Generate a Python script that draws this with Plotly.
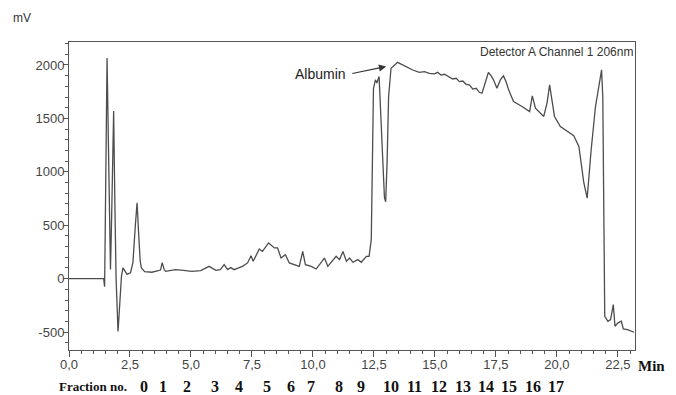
import plotly.graph_objects as go

# chromatogram trace (time in min, signal in mV)
time_min = [0.0, 1.42, 1.46, 1.50, 1.56, 1.62, 1.67, 1.70, 1.75, 1.83, 1.88, 1.93, 2.01, 2.08, 2.15, 2.21,
            2.30, 2.38, 2.52, 2.62, 2.72, 2.79, 2.86, 2.92, 2.97, 3.10, 3.40, 3.60, 3.75, 3.82, 3.90, 3.96,
            4.20, 4.37, 4.60, 5.04, 5.40, 5.74, 6.02, 6.20, 6.36, 6.50, 6.63, 6.77, 6.95, 7.11, 7.32, 7.46,
            7.55, 7.80, 7.93, 8.18, 8.42, 8.55, 8.69, 8.87, 9.03, 9.24, 9.44, 9.58, 9.69, 9.93, 10.13, 10.47,
            10.61, 10.95, 11.09, 11.23, 11.37, 11.50, 11.64, 11.84, 11.98, 12.19, 12.30, 12.39, 12.43, 12.48,
            12.56, 12.62, 12.71, 12.78, 12.86, 12.93, 12.98, 13.04, 13.10, 13.20, 13.47, 13.82, 14.09, 14.36,
            14.57, 14.77, 14.98, 15.11, 15.25, 15.39, 15.59, 15.73, 15.87, 16.00, 16.14, 16.28, 16.41, 16.55,
            16.69, 16.82, 16.93, 17.06, 17.19, 17.30, 17.40, 17.54, 17.68, 17.81,
            17.92, 18.02, 18.22, 18.57, 18.88, 18.99, 19.12, 19.46, 19.60, 19.70, 19.80, 19.90, 20.14, 20.69,
            20.90, 21.10, 21.24, 21.40, 21.58, 21.75, 21.83, 21.88, 21.93, 21.96, 22.09, 22.20, 22.31, 22.38,
            22.50, 22.64, 22.72, 22.89, 23.16]
signal_mv = [0, 0, -75, 900, 2066, 1200, 300, 85, 600, 1570, 700, 0, -495, -250, 20, 100,
             70, 40, 55, 150, 500, 710, 400, 160, 100, 65, 60, 70, 80, 150, 85, 68,
             75, 84, 80, 68, 75, 115, 78, 85, 131, 84, 103, 84, 100, 115, 147, 215,
             162, 278, 255, 334, 287, 287, 193, 224, 147, 131, 115, 255, 131, 115, 90, 193,
             115, 209, 178, 255, 162, 193, 153, 178, 153, 209, 209, 365, 1200, 1780,
             1861, 1832, 1892, 1500, 1000, 760, 720, 1100, 1700, 1969, 2025, 1984, 1953, 1931,
             1937, 1922, 1916, 1931, 1906, 1913, 1890, 1869, 1875, 1844, 1850, 1819, 1813, 1775,
             1782, 1744, 1735, 1845, 1929, 1900, 1861, 1783, 1860, 1898,
             1840, 1767, 1658, 1611, 1564, 1711, 1596, 1518, 1650, 1814, 1650, 1518, 1424, 1337,
             1237, 900, 754, 1200, 1611, 1850, 1954, 1700, 0, -352, -399, -383, -243, -446,
             -414, -399, -470, -477, -502]

# axis ticks
y_tickvals = [-500, 0, 500, 1000, 1500, 2000]
y_ticktext = ["-500", "0", "500", "1000", "1500", "2000"]
x_tickvals = [0.0, 2.5, 5.0, 7.5, 10.0, 12.5, 15.0, 17.5, 20.0, 22.5]
x_ticktext = ["0,0", "2,5", "5,0", "7,5", "10,0", "12,5", "15,0", "17,5", "20,0", "22,5"]

# fraction numbering under the time axis
fraction_labels = [str(i) for i in range(18)]
fraction_x = [3.08, 3.86, 4.84, 5.99, 6.98, 8.12, 9.11, 9.93, 11.08, 11.98,
              13.21, 14.15, 15.18, 16.13, 17.11, 18.05, 19.00, 19.98]

LINE = "#4d4d4d"
AX = "#555555"
SERIF = "Liberation Serif, Times New Roman, serif"
SANS = "Liberation Sans, Arial, sans-serif"

fig = go.Figure()
fig.add_trace(go.Scatter(x=time_min, y=signal_mv, mode="lines",
                         line=dict(color=LINE, width=1.3), hoverinfo="skip"))

annotations = []
annotations.append(dict(text="mV", xref="paper", yref="paper", x=-0.083, y=1.078,
                        xanchor="center", yanchor="middle", showarrow=False,
                        font=dict(family=SANS, size=12, color="#333")))
annotations.append(dict(text="Detector A Channel 1 206nm", xref="paper", yref="paper", x=1.0, y=0.967,
                        xanchor="right", yanchor="middle", showarrow=False,
                        font=dict(family=SANS, size=12, color="#333")))
annotations.append(dict(text="Albumin", xref="x", yref="y", x=11.45, y=1916, xanchor="right",
                        yanchor="middle", showarrow=False,
                        font=dict(family=SANS, size=14, color="#222")))
annotations.append(dict(text="", xref="x", yref="y", x=13.0, y=1985, axref="x", ayref="y",
                        ax=11.55, ay=1917, showarrow=True, arrowhead=2, arrowsize=1.2,
                        arrowwidth=1.2, arrowcolor="#333"))
annotations.append(dict(text="<b>Min</b>", xref="paper", yref="paper", x=1.03, y=-0.052,
                        xanchor="center", yanchor="middle", showarrow=False,
                        font=dict(family=SERIF, size=15, color="#111")))
annotations.append(dict(text="<b>Fraction no.</b>", xref="paper", yref="paper", x=0.042, y=-0.117,
                        xanchor="center", yanchor="middle", showarrow=False,
                        font=dict(family=SERIF, size=13, color="#111")))
for lab, fx in zip(fraction_labels, fraction_x):
    annotations.append(dict(text="<b>%s</b>" % lab, xref="x", yref="paper", x=fx, y=-0.117,
                            xanchor="center", yanchor="middle", showarrow=False,
                            font=dict(family=SERIF, size=16, color="#111")))

# page body has an 8px margin, so the figure is 8px smaller and margins shifted accordingly
fig.update_layout(
    width=668, height=387,
    margin=dict(l=61, r=41, t=34, b=45),
    paper_bgcolor="white", plot_bgcolor="white",
    showlegend=False,
    annotations=annotations,
    font=dict(family=SANS, size=13, color="#444"),
)
fig.update_xaxes(range=[0, 23.2], tickvals=x_tickvals, ticktext=x_ticktext,
                 ticks="outside", ticklen=6, tickcolor=AX, tickwidth=1,
                 ticklabelstandoff=-4,
                 showline=True, linecolor=AX, linewidth=1, mirror=True,
                 showgrid=False, zeroline=False,
                 minor=dict(dtick=0.5, tick0=0, ticks="outside", ticklen=3, tickcolor=AX, showgrid=False),
                 tickfont=dict(size=13, color="#444"))
fig.update_yaxes(range=[-668, 2215], tickvals=y_tickvals, ticktext=y_ticktext,
                 ticks="outside", ticklen=5, tickcolor=AX, tickwidth=1,
                 ticklabelstandoff=-4,
                 showline=True, linecolor=AX, linewidth=1, mirror=True,
                 showgrid=False, zeroline=False,
                 minor=dict(dtick=100, tick0=0, ticks="outside", ticklen=3, tickcolor=AX, showgrid=False),
                 tickfont=dict(size=13, color="#444"))

fig.write_html("out.html")
